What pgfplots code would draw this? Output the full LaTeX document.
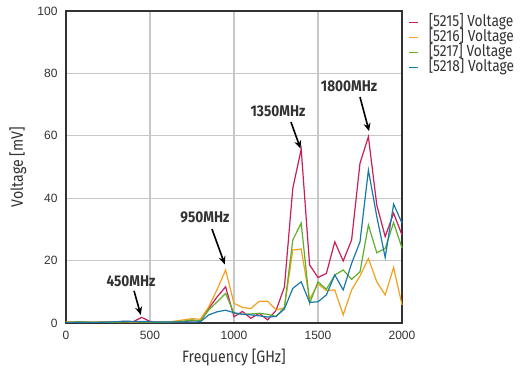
\documentclass[border=0pt]{standalone}
\usepackage{pgfplots}
\pgfplotsset{compat=1.18}
\usepackage{pgfplotstable}
\usetikzlibrary{arrows.meta}
\usepackage{fontspec}
\setmainfont[FakeStretch=0.86]{Fira Sans}
\newfontfamily\annfont[FakeStretch=0.88]{Fira Sans}
\newfontfamily\tickfont{Liberation Sans}
\definecolor{cRed}{RGB}{200,30,90}
\definecolor{cOrange}{RGB}{245,160,30}
\definecolor{cGreen}{RGB}{95,175,45}
\definecolor{cBlue}{RGB}{25,120,170}
\definecolor{gridc}{RGB}{200,200,200}
\definecolor{txtc}{RGB}{50,50,50}
\newcommand{\lent}[1]{\textcolor{txtc}{\raisebox{0pt}[9.5pt][2.5pt]{#1}}}
\pgfplotstableread{
f r o g b
0 0.2 0.3 0.2 0.2
50 0.3 0.3 0.3 0.2
100 0.3 0.4 0.3 0.3
150 0.2 0.3 0.2 0.2
200 0.3 0.2 0.3 0.2
250 0.3 0.3 0.2 0.3
300 0.4 0.3 0.3 0.4
350 0.5 0.4 0.4 0.6
400 0.4 0.3 0.4 0.5
450 1.8 0.4 0.3 0.5
500 0.5 0.3 0.3 0.4
550 0.3 0.3 0.2 0.3
600 0.3 0.3 0.3 0.3
650 0.3 0.6 0.4 0.3
700 0.4 1.0 0.6 0.3
750 0.8 1.4 1.0 0.3
800 0.7 1.2 0.6 0.4
850 4.7 5.2 4.2 2.6
900 8.4 10.8 6.8 3.6
950 11.6 17.0 9.5 4.1
1000 2.0 6.3 3.1 3.3
1050 3.7 5.0 2.8 2.8
1100 1.5 4.6 2.9 2.6
1150 3.1 7.0 3.1 2.3
1200 1.0 7.0 2.8 1.9
1250 4.0 4.2 2.1 2.1
1300 11.5 4.8 5.0 4.5
1350 43.2 23.4 26.6 11.1
1400 55.7 23.7 32.0 13.2
1450 18.6 7.6 6.3 6.6
1500 14.6 12.5 13.2 6.8
1550 15.9 10.4 10.8 9.0
1600 26.0 10.6 15.4 15.4
1650 19.9 2.6 17.0 10.6
1700 26.6 10.6 14.0 19.1
1750 51.2 15.1 16.4 26.0
1800 59.7 20.7 31.4 49.0
1850 37.8 13.2 22.5 34.1
1900 27.7 9.0 23.9 21.0
1950 35.2 17.8 32.2 38.1
2000 28.2 5.8 24.0 32.0
}\datatable
\begin{document}
\begin{tikzpicture}
\begin{axis}[
  scale only axis,
  width=336pt, height=312pt,
  xmin=0, xmax=2000, ymin=0, ymax=100,
  xtick={0,500,1000,1500,2000},
  ytick={0,20,40,60,80,100},
  major tick length=0pt,
  grid=major,
  major grid style={gridc, line width=1.2pt},
  axis line style={txtc, line width=1.3pt},
  tick label style={font=\tickfont\fontsize{12}{14}\selectfont, text=txtc},
  yticklabel style={xshift=-5pt},
  xticklabel style={yshift=-5pt},
  /pgf/number format/assume math mode=true,
  /pgf/number format/1000 sep={},
  xlabel={Frequency [GHz]},
  ylabel={Voltage [mV]},
  label style={font=\fontsize{16.5}{18}\selectfont, text=txtc},
  x label style={at={(axis description cs:0.5,0)}, anchor=center, yshift=-35pt},
  y label style={at={(axis description cs:-0.143,0.5)}, anchor=center},
  legend style={at={(1.0,1.0)}, anchor=north west, xshift=6pt, yshift=-4pt, draw=none, fill=none,
    inner sep=0pt, font=\fontsize{16}{18}\selectfont, row sep=0pt, column sep=8pt},
  legend cell align=left,
  legend image code/.code={\draw[#1, line width=1.6pt] (0pt,0pt) -- (9pt,0pt);},
  every axis plot/.append style={line width=1.2pt},
  clip=false,
]
\addplot[cRed, no marks] table[x=f, y=r] {\datatable};
\addlegendentry{\lent{[5215] Voltage}}
\addplot[cOrange, no marks] table[x=f, y=o] {\datatable};
\addlegendentry{\lent{[5216] Voltage}}
\addplot[cGreen, no marks] table[x=f, y=g] {\datatable};
\addlegendentry{\lent{[5217] Voltage}}
\addplot[cBlue, no marks] table[x=f, y=b] {\datatable};
\addlegendentry{\lent{[5218] Voltage}}
\tikzset{lab/.style={font=\annfont\bfseries\fontsize{15.5}{17}\selectfont, text=txtc},
         arr/.style={-{Stealth[length=8pt,width=7pt]}, line width=1.6pt, black}}
\node[lab] at (axis cs:387,13.5) {450MHz};
\draw[arr] (axis cs:405,10.3) -- (axis cs:445,2.6);
\node[lab] at (axis cs:827,34) {950MHz};
\draw[arr] (axis cs:869,30.1) -- (axis cs:945,18.8);
\node[lab] at (axis cs:1262,68) {1350MHz};
\draw[arr] (axis cs:1339,64.4) -- (axis cs:1396,55.9);
\node[lab] at (axis cs:1685,76) {1800MHz};
\draw[arr] (axis cs:1750,72.4) -- (axis cs:1804,61.5);
\end{axis}
\pgfresetboundingbox
\path (current axis.south west) ++(-66pt,-47pt) rectangle ++(530pt,370pt);
\end{tikzpicture}
\end{document}
